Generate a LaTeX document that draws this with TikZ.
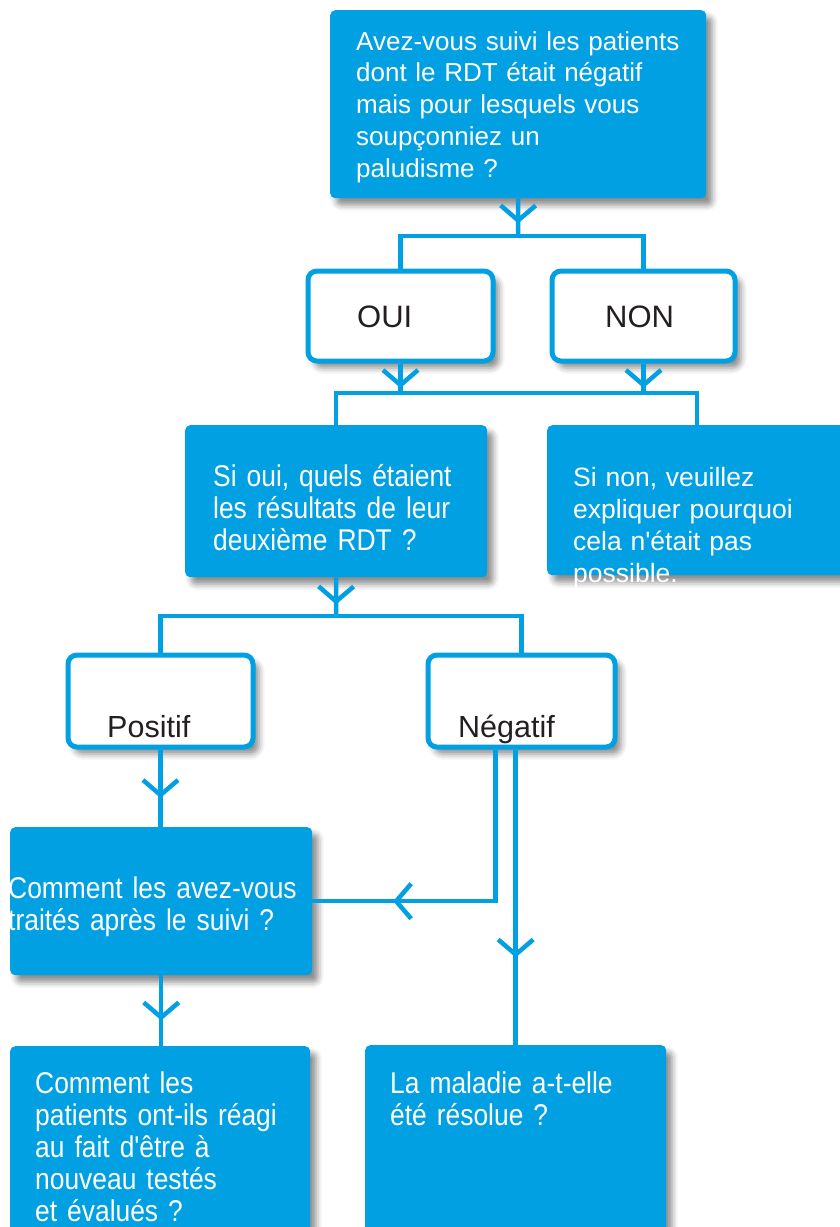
\documentclass[tikz,border=0pt]{standalone}
\usepackage{fontspec}
\setmainfont{Liberation Sans}[Ligatures=TeXOff]
\newfontfamily\narrowsf{Liberation Sans}[FakeStretch=0.88]
\usetikzlibrary{arrows.meta,decorations.markings,shadows.blur}
\definecolor{flowblue}{RGB}{0,160,226}
\definecolor{inkblack}{RGB}{35,31,32}

\begin{document}
\begin{tikzpicture}[
  x=1pt, y=-1pt,
  qbox/.style={rectangle, fill=flowblue, rounded corners=5pt, inner sep=0pt, anchor=north west,
    blur shadow={shadow xshift=6pt, shadow yshift=-7pt, shadow blur radius=6pt, shadow opacity=45}},
  abox/.style={rectangle, draw=flowblue, line width=5pt, fill=white, rounded corners=9pt, inner sep=0pt, anchor=north west,
    blur shadow={shadow xshift=6pt, shadow yshift=-7pt, shadow blur radius=6pt, shadow opacity=45}},
  qtext/.style={anchor=base west, inner sep=0pt, text=white, text width=#1, align=left,
    font=\fontsize{26.5}{32}\selectfont},
  ntext/.style={qtext=#1, font=\narrowsf\fontsize{30}{32}\selectfont},
  atext/.style={anchor=base west, inner sep=0pt, text=inkblack, font=\fontsize{30.5}{36}\selectfont},
  link/.style={draw=flowblue, line width=4.5pt},
  vee/.style={postaction={decorate}, decoration={markings,
    mark=at position #1 with {\arrow{Straight Barb[length=15pt, width=35pt]}}}}
]
\useasboundingbox (0,0) rectangle (839,1227);

% question boxes
\node[qbox, minimum width=376, minimum height=188] (q1) at (330,10) {};
\node[abox, minimum width=185, minimum height=90] (oui) at (305.5,268.5) {};
\node[abox, minimum width=183, minimum height=90] (non) at (549.5,268.5) {};
\node[qbox, minimum width=302, minimum height=152] (sioui) at (185,425) {};
\node[qbox, minimum width=300, minimum height=150] (sinon) at (547,425) {};
\node[abox, minimum width=185, minimum height=92] (positif) at (65.5,652.5) {};
\node[abox, minimum width=187, minimum height=92] (negatif) at (425.5,652.5) {};
\node[qbox, minimum width=302, minimum height=148] (traite) at (10,827) {};
\node[qbox, minimum width=300, minimum height=200] (reagi) at (10,1046) {};
\node[qbox, minimum width=301, minimum height=200] (resolu) at (365,1045) {};

% texts
\node[qtext=340pt, font=\fontsize{26}{31.75}\selectfont] (q1txt) at (356,50)
  {Avez-vous suivi les patients\\dont le RDT était négatif\\mais pour lesquels vous\\soupçonniez un\\paludisme ?};
\node[atext, font=\fontsize{31}{36}\selectfont] (ouitxt) at (357,327) {OUI};
\node[atext, font=\fontsize{31}{36}\selectfont] (nontxt) at (605,327) {NON};
\node[ntext=240pt] (siouitxt) at (213,486)
  {\makebox[240pt][s]{Si oui, quels étaient}\\\makebox[240pt][s]{les résultats de leur}\\deuxième RDT ?};
\node[qtext=250pt] (sinontxt) at (573,486)
  {Si non, veuillez\\expliquer pourquoi\\cela n'était pas\\possible.};
\node[atext] (positiftxt) at (107,737) {Positif};
\node[atext] (negatiftxt) at (458,737) {Négatif};
\node[ntext=300pt] (traitetxt) at (8,898)
  {Comment les avez-vous\\traités après le suivi ?};
\node[ntext=260pt] (reagitxt) at (35,1093)
  {Comment les\\patients ont-ils réagi\\au fait d'être à\\nouveau testés\\et évalués ?};
\node[ntext=260pt] (resolutxt) at (390,1093)
  {La maladie a-t-elle\\été résolue ?};

% connectors
\coordinate (j1) at (518,236);
\coordinate (j2) at (398,393);
\coordinate (j3) at (336,616);
\draw[link, vee=25pt] (q1.south) -- (j1);
\draw[link] (oui.north) |- (j1) -| (non.north);
\draw[link, vee=24.5pt] (oui.south) -- (oui.south |- j2);
\draw[link, vee=24.5pt] (non.south) -- (non.south |- j2);
\draw[link] (sioui.north) |- (j2) -| (sinon.north);
\draw[link, vee=27pt] (sioui.south) -- (j3);
\draw[link] (positif.north) |- (j3) -| (negatif.north);
\draw[link, vee=48.5pt] (positif.south) -- (positif.south |- traite.north);
\draw[link, vee=45pt] (traite.south) -- (traite.south |- reagi.north);
\draw[link, vee=254pt] ([xshift=-26pt]negatif.south) |- (traite.east);
\draw[link, vee=208pt] (negatif.south -| resolu.north) -- (resolu.north);
\end{tikzpicture}
\end{document}
